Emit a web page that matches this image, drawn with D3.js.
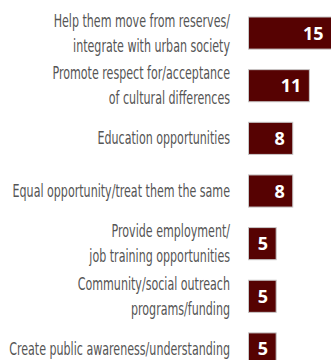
<!DOCTYPE html>
<html><head><meta charset="utf-8">
<script src="https://cdn.jsdelivr.net/npm/d3@7/dist/d3.min.js"></script>
<style>
html,body{margin:0;padding:0;background:#fff;}
svg{display:block;}
</style></head>
<body><svg id="chart" width="331" height="360"></svg>
<script>
const categories = [
  ["Help them move from reserves/", "integrate with urban society"],
  ["Promote respect for/acceptance", "of cultural differences"],
  ["Education opportunities"],
  ["Equal opportunity/treat them the same"],
  ["Provide employment/", "job training opportunities"],
  ["Community/social outreach", "programs/funding"],
  ["Create public awareness/understanding"]
];
const values = [15, 11, 8, 8, 5, 5, 5];

const svg = d3.select("#chart");
const ids = categories.map((c, i) => i);
const x = d3.scaleLinear().domain([0, 15]).range([248.5, 331.5]);
const y = d3.scaleBand().domain(ids).range([17, 365]).paddingInner(0.39).paddingOuter(0);

const font = "'DejaVu Sans Condensed','Liberation Sans Narrow',sans-serif";

const g = svg.append("g");
g.selectAll("rect").data(ids).join("rect")
  .attr("x", x(0))
  .attr("y", i => y(i))
  .attr("width", i => x(values[i]) - x(0))
  .attr("height", y.bandwidth())
  .attr("fill", "#560202")
  .attr("stroke", "#c8c8c8")
  .attr("stroke-width", 1);

g.selectAll("text.val").data(ids).join("text")
  .attr("class", "val")
  .attr("x", i => x(values[i]) - 8)
  .attr("y", i => y(i) + y.bandwidth() / 2 + 6.5)
  .attr("text-anchor", "end")
  .attr("fill", "#fff")
  .attr("font-family", "'Open Sans','Liberation Sans',sans-serif")
  .attr("font-weight", "bold")
  .attr("font-size", 18)
  .text(i => values[i]);

const lineH = 25;
const anchorX = 230;
const labels = g.selectAll("text.lab").data(ids).join("text")
  .attr("class", "lab")
  .attr("text-anchor", "end")
  .attr("fill", "#555555")
  .attr("font-family", font)
  .attr("font-stretch", "condensed")
  .attr("font-size", 17);
labels.each(function(i) {
  const lines = categories[i];
  const cy = y(i) + y.bandwidth() / 2;
  const first = cy + 6 - (lines.length - 1) * lineH / 2;
  d3.select(this).selectAll("tspan").data(lines).join("tspan")
    .attr("x", anchorX)
    .attr("y", (d, k) => first + k * lineH)
    .text(d => d);
});
// compress horizontally so the longest line fits the reference width
let maxW = 0;
labels.selectAll("tspan").each(function() { maxW = Math.max(maxW, this.getComputedTextLength()); });
const s = 221 / maxW;
labels.attr("transform", `translate(${anchorX},0) scale(${s},1) translate(${-anchorX},0)`);
</script></body></html>
